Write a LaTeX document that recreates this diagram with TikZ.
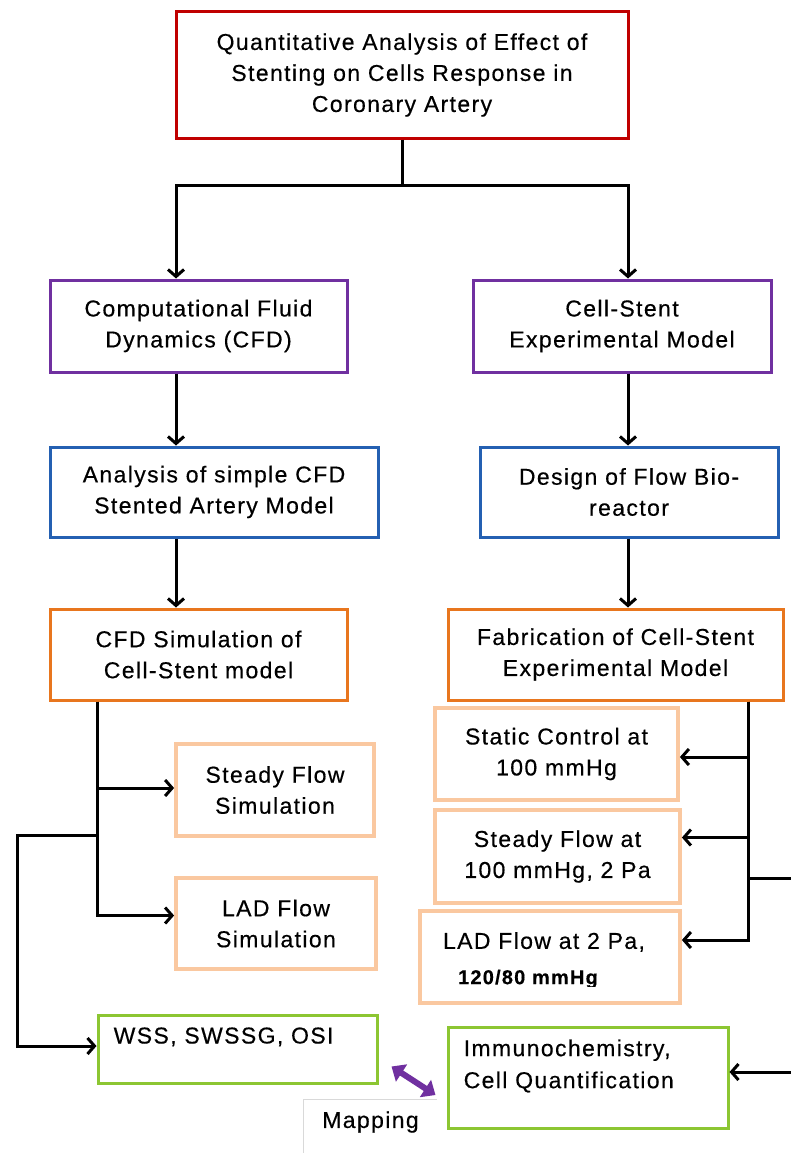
\documentclass[tikz,border=0pt]{standalone}
\usepackage{fontspec}
\setmainfont{Liberation Sans}[LetterSpace=6,FakeBold=0.4]
\usepackage{tikz}
\usetikzlibrary{arrows.meta,calc,positioning}
\definecolor{topred}{RGB}{192,0,0}
\definecolor{modpurple}{RGB}{112,48,160}
\definecolor{stepblue}{RGB}{36,96,178}
\definecolor{simorange}{RGB}{232,118,30}
\definecolor{casepeach}{RGB}{250,200,160}
\definecolor{outgreen}{RGB}{140,198,50}

\begin{document}
\begin{tikzpicture}[x=1pt,y=-1pt,>={Straight Barb[length=7pt,width=16pt]},
  box/.style={draw,line width=3pt,fill=white,align=center,inner sep=0pt,font=\fontsize{23}{31}\selectfont},
  casebox/.style={box,draw=casepeach,line width=3.8pt},
  outbox/.style={box,draw=outgreen},
  txt/.style={inner sep=0pt,align=left,font=\fontsize{23}{32}\selectfont},
  flow/.style={line width=3pt},
  maplink/.style={draw=modpurple,line width=6pt,{Triangle[length=12pt,width=20pt]}-{Triangle[length=12pt,width=20pt]}}]
  \useasboundingbox (0,0) rectangle (791,1153);
  \fill[white] (0,0) rectangle (791,1153);
  \node[box,draw=topred,minimum width=452pt,minimum height=126pt] (top) at (402,75) {Quantitative Analysis of Effect of\\Stenting on Cells Response in\\Coronary Artery};
  \node[box,draw=modpurple,minimum width=297pt,minimum height=92pt] (cfd) at (198.5,326) {Computational Fluid\\Dynamics (CFD)};
  \node[box,draw=modpurple,minimum width=298pt,minimum height=92pt] (csm) at (622,326) {Cell-Stent\\Experimental Model};
  \node[box,draw=stepblue,minimum width=328pt,minimum height=90pt] (anal) at (214,492) {Analysis of simple CFD\\Stented Artery Model};
  \node[box,draw=stepblue,minimum width=298pt,minimum height=90pt] (design) at (629,492) {Design of Flow Bio-\\reactor};
  \node[box,draw=simorange,minimum width=297pt,minimum height=91pt] (cfdsim) at (198.5,654.5) {CFD Simulation of\\Cell-Stent model};
  \node[box,draw=simorange,minimum width=335pt,minimum height=91pt] (fab) at (615.5,654.5) {Fabrication of Cell-Stent\\Experimental Model};
  \node[casebox,minimum width=198pt,minimum height=92pt] (steady) at (275,790) {Steady Flow\\Simulation};
  \node[casebox,minimum width=200pt,minimum height=91pt] (ladsim) at (276,923.5) {LAD Flow\\Simulation};
  \node[casebox,minimum width=243pt,minimum height=92pt] (static) at (556.5,754) {Static Control at\\100 mmHg};
  \node[casebox,minimum width=245pt,minimum height=93pt] (steadyexp) at (557.5,856.5) {Steady Flow at\\100 mmHg, 2 Pa};
  \node[casebox,minimum width=260pt,minimum height=92pt] (ladexp) at (550,957) {};
  \node[txt] (ladexp1) at (544,942) {LAD Flow at 2 Pa,};
  \begin{scope}
    \clip (ladexp.north west) rectangle ([yshift=18pt]ladexp.south east);
    \node[inner sep=0pt,font=\fontsize{20}{24}\selectfont\bfseries] (ladexp2) at (528,979) {120/80 mmHg};
  \end{scope}
  \node[outbox,minimum width=279pt,minimum height=68pt] (wss) at (237.5,1049) {};
  \node[txt,anchor=base west] (wsstxt) at ([shift={(17pt,-30pt)}]wss.north west) {WSS, SWSSG, OSI};
  \node[outbox,minimum width=280pt,minimum height=101pt] (immuno) at (588,1077.5) {};
  \node[txt,anchor=west] (immunotxt) at ([shift={(17pt,11.5pt)}]immuno.west) {Immunochemistry,\\Cell Quantification};
  \node[inner sep=0pt,minimum width=133pt,minimum height=44pt,font=\fontsize{23}{31}\selectfont] (map) at (370.5,1122) {Mapping};
  \coordinate (lx) at (176,0); \coordinate (rx) at (628,0);
  \coordinate (ltrunk) at (97,0); \coordinate (rtrunk) at (748,0);
  \coordinate (fork) at (402,185); \coordinate (lloop) at (17,835);
  \coordinate (rout) at (791,878); \coordinate (rin) at (791,1072);
  \draw[flow] (top.south) -- (fork);
  \draw[flow,->] (fork) -| (cfd.north -| lx);
  \draw[flow,->] (fork) -| (csm.north -| rx);
  \draw[flow,->] (cfd.south -| lx) -- (anal.north -| lx);
  \draw[flow,->] (anal.south -| lx) -- (cfdsim.north -| lx);
  \draw[flow,->] (csm.south -| rx) -- (design.north -| rx);
  \draw[flow,->] (design.south -| rx) -- (fab.north -| rx);
  \foreach \n/\dy in {steady/2,ladsim/8} \draw[flow,->] (cfdsim.south -| ltrunk) |- ([yshift=\dy pt]\n.west);
  \draw[flow,->] (lloop -| ltrunk) -- (lloop) |- ([yshift=3pt]wss.west);
  \foreach \n/\dy in {static/-3,steadyexp/19,ladexp/17} \draw[flow,->] (fab.south -| rtrunk) |- ([yshift=\dy pt]\n.east);
  \draw[flow] (rout -| rtrunk) -- (rout);
  \draw[flow,->] (rin) -- (rin -| immuno.east);
  \draw[maplink] ([shift={(13pt,18pt)}]wss.south east) -- ([shift={(-11pt,-17.5pt)}]immuno.west);
  \draw[gray!30,line width=1.2pt] ([yshift=-15pt]map.south west) |- (map.north east);
\end{tikzpicture}
\end{document}
